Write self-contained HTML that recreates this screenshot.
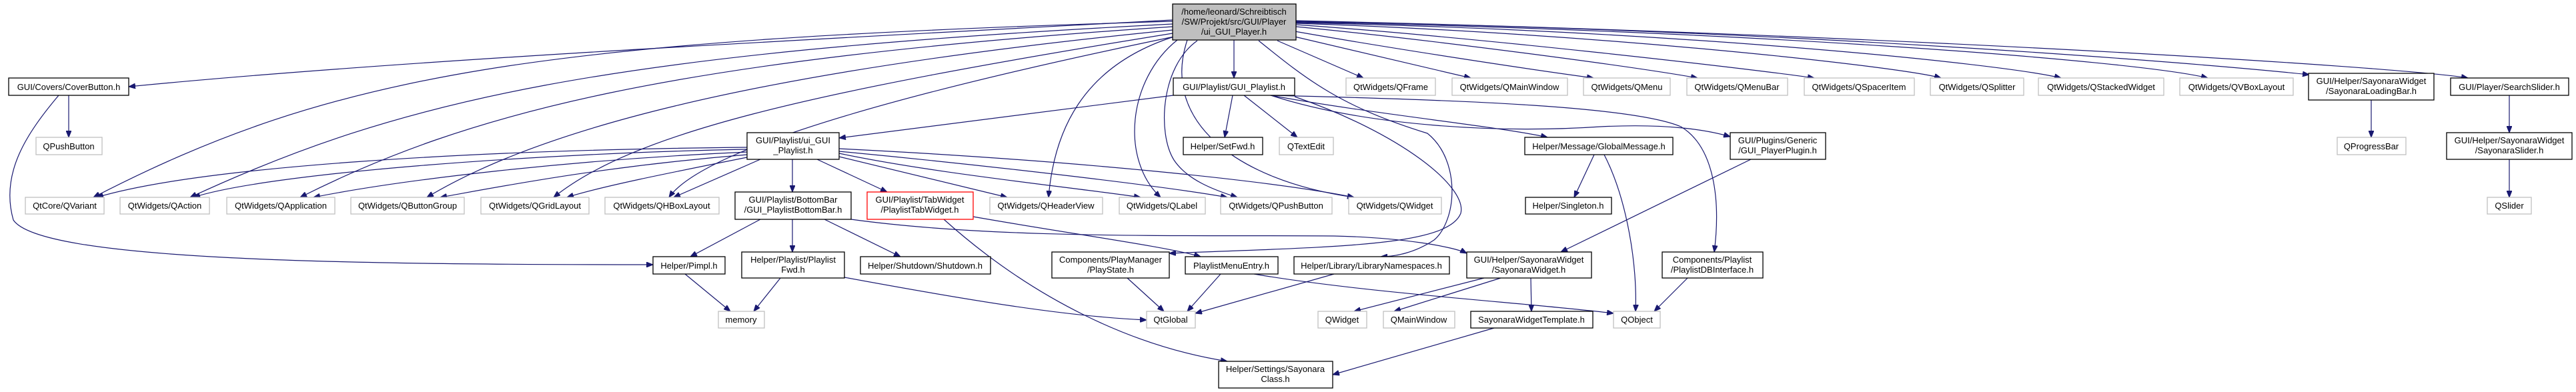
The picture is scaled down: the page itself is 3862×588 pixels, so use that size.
<!DOCTYPE html>
<html><head><meta charset="utf-8"><style>
html,body{margin:0;padding:0;background:#fff;}
svg{display:block;}
text{font-family:"Liberation Sans",Arial,sans-serif;font-size:13px;fill:#000;text-anchor:middle;}
.g{fill:#fff;stroke:#bfbfbf;stroke-width:1.3;}
.b{fill:#fff;stroke:#000;stroke-width:1.3;}
.m{fill:#bfbfbf;stroke:#000;stroke-width:1.3;}
.r{fill:#fff;stroke:#ff0000;stroke-width:1.3;}
.e{fill:none;stroke:#191970;stroke-width:1.2;marker-end:url(#a);}
</style></head><body>
<svg width="3862" height="588" viewBox="0 0 3862 588" xmlns="http://www.w3.org/2000/svg">
<defs><marker id="a" markerUnits="userSpaceOnUse" markerWidth="11" markerHeight="8" refX="10" refY="4" orient="auto"><path d="M0,0 L10,4 L0,8 z" fill="#191970" stroke="#191970"/></marker></defs>

<!-- edges from main -->
<path class="e" d="M1758,30 C1200,60 600,90 193,130"/>
<path class="e" d="M1758,32 C800,60 500,110 140,296"/>
<path class="e" d="M1758,36 C900,80 600,150 285,296"/>
<path class="e" d="M1758,40 C1000,90 700,170 450,296"/>
<path class="e" d="M1758,45 C1100,110 800,200 640,296"/>
<path class="e" d="M1758,50 C1200,140 950,200 830,296"/>
<path class="e" d="M1760,55 C1300,150 1050,230 1003,296"/>
<path class="e" d="M1760,55 C1620,100 1580,200 1572,296"/>
<path class="e" d="M1765,60 C1690,120 1680,240 1740,296"/>
<path class="e" d="M1795,61 C1740,100 1735,200 1760,240 C1780,270 1820,285 1855,296"/>
<path class="e" d="M1780,60 C1740,180 1850,270 2030,296"/>
<path class="e" d="M1850,60 L1850,117"/>
<path class="e" d="M1915,61 L2044,117"/>
<path class="e" d="M1941,55 L2205,117"/>
<path class="e" d="M1941,47 C2100,75 2300,105 2389,117"/>
<path class="e" d="M1943,40 C2150,60 2450,100 2545,117"/>
<path class="e" d="M1943,37 C2200,55 2600,100 2720,117"/>
<path class="e" d="M1943,35 C2400,50 2850,100 2910,117"/>
<path class="e" d="M1943,34 C2500,45 3000,95 3090,117"/>
<path class="e" d="M1943,33 C2600,45 3200,90 3310,117"/>
<path class="e" d="M1943,32 C2700,45 3300,95 3462,112"/>
<path class="e" d="M1943,31 C2800,50 3600,100 3700,117"/>
<path class="e" d="M1887,61 C1960,120 2010,160 2140,200 C2190,240 2185,330 2150,360 C2120,380 2090,385 2070,385"/>
<path class="e" d="M1941,145 C2100,200 2200,280 2190,320 C2170,370 2000,370 1753,380"/>
<path class="e" d="M1276,329 C1500,360 1800,352 2000,354 C2100,356 2180,370 2199,380"/>
<path class="e" d="M1459,325 C1600,350 1750,370 1800,385"/>

<!-- ui_GUI_Playlist edges -->
<path class="e" d="M1120,221 C700,225 300,250 145,296"/>
<path class="e" d="M1120,224 C800,230 400,260 290,296"/>
<path class="e" d="M1120,228 C850,240 600,270 470,296"/>
<path class="e" d="M1120,232 C900,250 750,280 660,296"/>
<path class="e" d="M1120,236 C1000,260 900,280 850,296"/>
<path class="e" d="M1140,239 L1010,296"/>
<path class="e" d="M1188,239 L1188,288"/>
<path class="e" d="M1225,239 L1330,288"/>
<path class="e" d="M1258,235 L1510,296"/>
<path class="e" d="M1258,230 C1400,260 1600,280 1710,296"/>
<path class="e" d="M1258,227 C1500,250 1750,280 1840,296"/>
<path class="e" d="M1258,223 C1600,240 1900,270 2030,296"/>

<!-- GUI_Playlist edges -->
<path class="e" d="M1759,143 L1258,207"/>
<path class="e" d="M1848,143 L1836,206"/>
<path class="e" d="M1865,143 L1945,206"/>
<path class="e" d="M1905,143 C2050,170 2250,190 2320,206"/>
<path class="e" d="M1905,143 C2050,190 2250,200 2400,190 C2500,185 2560,195 2594,205"/>
<path class="e" d="M1905,143 C2200,150 2450,160 2520,190 C2570,220 2580,300 2570,378"/>

<!-- others -->
<path class="e" d="M1140,329 L1035,385"/>
<path class="e" d="M1188,329 L1188,378"/>
<path class="e" d="M1236,329 L1350,385"/>
<path class="e" d="M1415,329 C1550,450 1700,520 1840,542"/>
<path class="e" d="M1027,411 L1095,467"/>
<path class="e" d="M1170,417 L1130,467"/>
<path class="e" d="M1266,416 C1450,450 1600,475 1719,480"/>
<path class="e" d="M1690,417 L1745,467"/>
<path class="e" d="M1830,411 L1780,467"/>
<path class="e" d="M1880,411 C2050,440 2300,455 2419,470"/>
<path class="e" d="M2000,411 L1792,470"/>
<path class="e" d="M2390,232 L2360,296"/>
<path class="e" d="M2405,232 C2440,300 2455,400 2452,467"/>
<path class="e" d="M2625,239 L2340,378"/>
<path class="e" d="M2225,417 L2030,467"/>
<path class="e" d="M2250,417 L2090,467"/>
<path class="e" d="M2295,417 L2296,467"/>
<path class="e" d="M2530,417 L2480,467"/>
<path class="e" d="M2240,492 L1998,562"/>
<path class="e" d="M103,143 L103,206"/>
<path class="e" d="M88,143 C40,200 0,260 20,330 C60,390 500,397 979,397"/>
<path class="e" d="M3555,150 L3555,206"/>
<path class="e" d="M3762,143 L3762,199"/>
<path class="e" d="M3762,239 L3762,296"/>

<!-- nodes -->
<rect class="m" x="1758" y="6" width="185" height="54"/>
<text x="1850" y="22">/home/leonard/Schreibtisch</text>
<text x="1850" y="37">/SW/Projekt/src/GUI/Player</text>
<text x="1850" y="52">/ui_GUI_Player.h</text>

<rect class="b" x="13" y="117" width="180" height="26"/><text x="103" y="135">GUI/Covers/CoverButton.h</text>
<rect class="g" x="54" y="206" width="99" height="26"/><text x="103" y="224">QPushButton</text>
<rect class="g" x="38" y="296" width="118" height="25"/><text x="97" y="313">QtCore/QVariant</text>
<rect class="g" x="180" y="296" width="134" height="25"/><text x="247" y="313">QtWidgets/QAction</text>
<rect class="g" x="340" y="296" width="162" height="25"/><text x="421" y="313">QtWidgets/QApplication</text>
<rect class="g" x="526" y="296" width="170" height="25"/><text x="611" y="313">QtWidgets/QButtonGroup</text>
<rect class="g" x="721" y="296" width="162" height="25"/><text x="802" y="313">QtWidgets/QGridLayout</text>
<rect class="g" x="907" y="296" width="171" height="25"/><text x="992" y="313">QtWidgets/QHBoxLayout</text>
<rect class="b" x="979" y="385" width="108" height="26"/><text x="1033" y="403">Helper/Pimpl.h</text>

<rect class="b" x="1759" y="117" width="182" height="26"/><text x="1850" y="135">GUI/Playlist/GUI_Playlist.h</text>
<rect class="b" x="1120" y="199" width="138" height="40"/><text x="1189" y="215">GUI/Playlist/ui_GUI</text><text x="1189" y="230">_Playlist.h</text>
<rect class="b" x="1774" y="206" width="119" height="26"/><text x="1833" y="224">Helper/SetFwd.h</text>
<rect class="g" x="1918" y="206" width="81" height="26"/><text x="1958" y="224">QTextEdit</text>

<rect class="b" x="1102" y="288" width="174" height="41"/><text x="1189" y="304">GUI/Playlist/BottomBar</text><text x="1189" y="319">/GUI_PlaylistBottomBar.h</text>
<rect class="r" x="1300" y="288" width="159" height="41"/><text x="1379" y="304">GUI/Playlist/TabWidget</text><text x="1379" y="319">/PlaylistTabWidget.h</text>
<rect class="g" x="1484" y="296" width="169" height="25"/><text x="1568" y="313">QtWidgets/QHeaderView</text>
<rect class="g" x="1678" y="296" width="129" height="25"/><text x="1742" y="313">QtWidgets/QLabel</text>
<rect class="g" x="1830" y="296" width="167" height="25"/><text x="1913" y="313">QtWidgets/QPushButton</text>
<rect class="g" x="2022" y="296" width="139" height="25"/><text x="2091" y="313">QtWidgets/QWidget</text>

<rect class="b" x="1112" y="378" width="154" height="39"/><text x="1189" y="394">Helper/Playlist/Playlist</text><text x="1189" y="409">Fwd.h</text>
<rect class="b" x="1290" y="385" width="195" height="26"/><text x="1387" y="403">Helper/Shutdown/Shutdown.h</text>
<rect class="b" x="1577" y="378" width="176" height="39"/><text x="1665" y="394">Components/PlayManager</text><text x="1665" y="409">/PlayState.h</text>
<rect class="b" x="1777" y="385" width="139" height="26"/><text x="1846" y="403">PlaylistMenuEntry.h</text>
<rect class="b" x="1940" y="385" width="233" height="26"/><text x="2056" y="403">Helper/Library/LibraryNamespaces.h</text>

<rect class="g" x="1077" y="467" width="69" height="25"/><text x="1111" y="484">memory</text>
<rect class="g" x="1719" y="467" width="73" height="25"/><text x="1755" y="484">QtGlobal</text>
<rect class="b" x="1827" y="542" width="171" height="40"/><text x="1912" y="558">Helper/Settings/Sayonara</text><text x="1912" y="573">Class.h</text>
<rect class="g" x="1976" y="467" width="73" height="25"/><text x="2012" y="484">QWidget</text>
<rect class="g" x="2074" y="467" width="107" height="25"/><text x="2127" y="484">QMainWindow</text>
<rect class="b" x="2205" y="467" width="183" height="25"/><text x="2296" y="484">SayonaraWidgetTemplate.h</text>
<rect class="g" x="2419" y="467" width="70" height="25"/><text x="2454" y="484">QObject</text>

<rect class="b" x="2286" y="206" width="222" height="26"/><text x="2397" y="224">Helper/Message/GlobalMessage.h</text>
<rect class="b" x="2594" y="199" width="143" height="40"/><text x="2665" y="215">GUI/Plugins/Generic</text><text x="2665" y="230">/GUI_PlayerPlugin.h</text>
<rect class="b" x="2287" y="296" width="129" height="25"/><text x="2351" y="313">Helper/Singleton.h</text>
<rect class="b" x="2199" y="378" width="187" height="39"/><text x="2292" y="394">GUI/Helper/SayonaraWidget</text><text x="2292" y="409">/SayonaraWidget.h</text>
<rect class="b" x="2492" y="378" width="151" height="39"/><text x="2567" y="394">Components/Playlist</text><text x="2567" y="409">/PlaylistDBInterface.h</text>

<rect class="g" x="2018" y="117" width="134" height="26"/><text x="2085" y="135">QtWidgets/QFrame</text>
<rect class="g" x="2177" y="117" width="173" height="26"/><text x="2263" y="135">QtWidgets/QMainWindow</text>
<rect class="g" x="2374" y="117" width="130" height="26"/><text x="2439" y="135">QtWidgets/QMenu</text>
<rect class="g" x="2529" y="117" width="151" height="26"/><text x="2604" y="135">QtWidgets/QMenuBar</text>
<rect class="g" x="2705" y="117" width="165" height="26"/><text x="2787" y="135">QtWidgets/QSpacerItem</text>
<rect class="g" x="2894" y="117" width="140" height="26"/><text x="2964" y="135">QtWidgets/QSplitter</text>
<rect class="g" x="3056" y="117" width="188" height="26"/><text x="3150" y="135">QtWidgets/QStackedWidget</text>
<rect class="g" x="3268" y="117" width="170" height="26"/><text x="3353" y="135">QtWidgets/QVBoxLayout</text>
<rect class="b" x="3461" y="110" width="188" height="40"/><text x="3555" y="126">GUI/Helper/SayonaraWidget</text><text x="3555" y="141">/SayonaraLoadingBar.h</text>
<rect class="b" x="3674" y="117" width="177" height="26"/><text x="3762" y="135">GUI/Player/SearchSlider.h</text>
<rect class="g" x="3504" y="206" width="103" height="26"/><text x="3555" y="224">QProgressBar</text>
<rect class="b" x="3668" y="199" width="188" height="40"/><text x="3762" y="215">GUI/Helper/SayonaraWidget</text><text x="3762" y="230">/SayonaraSlider.h</text>
<rect class="g" x="3729" y="296" width="66" height="25"/><text x="3762" y="313">QSlider</text>
</svg>
</body></html>
